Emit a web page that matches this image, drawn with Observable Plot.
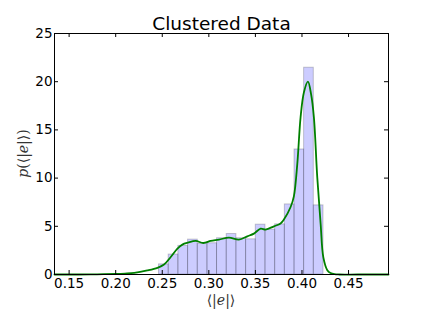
<!DOCTYPE html>
<html>
<head>
<meta charset="utf-8">
<script src="https://cdn.jsdelivr.net/npm/d3@7"></script>
<script src="https://cdn.jsdelivr.net/npm/@observablehq/plot@0.6"></script>
<style>
  html, body { margin: 0; padding: 0; background: #fff; }
</style>
</head>
<body>
<div id="chart"></div>
<script>
const title = "Clustered Data";
const xTicks = [0.15, 0.20, 0.25, 0.30, 0.35, 0.40, 0.45];
const yTicks = [0, 5, 10, 15, 20, 25];
const binEdges = [0.2465, 0.2569, 0.2673, 0.2777, 0.2881, 0.2985, 0.3088, 0.3192, 0.3296, 0.3400,
                  0.3504, 0.3608, 0.3712, 0.3816, 0.3920, 0.4023, 0.4127, 0.4231];
const binHeights = [1.05, 2.07, 2.97, 3.62, 3.17, 3.24, 3.76, 4.2, 3.76, 3.65,
                    5.17, 4.65, 5.2, 7.27, 12.97, 21.45, 7.17];
const kdeX = [0.1343, 0.16, 0.18, 0.20, 0.21, 0.22, 0.234, 0.2448, 0.2519, 0.2591, 0.2663, 0.2716,
              0.2776, 0.2859, 0.2941, 0.302, 0.3109, 0.3216, 0.3323, 0.3413, 0.3484, 0.3556, 0.361,
              0.3699, 0.377, 0.3806, 0.3878, 0.3913, 0.395, 0.3985, 0.4021, 0.4064, 0.4098, 0.4128,
              0.4164, 0.420, 0.4229, 0.4272, 0.4307, 0.435, 0.44, 0.46, 0.4929];
const kdeY = [0, 0, 0.02, 0.06, 0.1, 0.17, 0.42, 0.69, 1.03, 1.82, 2.69, 3.1,
              3.3, 3.48, 3.27, 3.48, 3.62, 3.83, 3.62, 3.96, 4.24, 4.76, 4.66,
              5.0, 5.3, 5.7, 7.0, 8.1, 11.5, 16.3, 18.9, 20.0, 18.7, 16.3,
              10.1, 5.3, 1.8, 0.45, 0.15, 0.03, 0, 0, 0];

const bars = binHeights.map((h, i) => ({x1: binEdges[i], x2: binEdges[i + 1], y: h}));
const kde = kdeX.map((x, i) => ({x, y: kdeY[i]}));

const W = 431, H = 323, mL = 54, mR = 43, mT = 33, mB = 49;
const innerW = W - mL - mR, innerH = H - mT - mB;
const tick = 4;

const plot = Plot.plot({
  width: W, height: H,
  marginLeft: mL, marginRight: mR, marginTop: mT, marginBottom: mB,
  style: {fontFamily: "DejaVu Sans", fontSize: "13.5px", color: "black", background: "white", overflow: "visible"},
  x: {domain: [0.1343, 0.4929], label: null},
  y: {domain: [0, 25], label: null},
  marks: [
    Plot.rectY(bars, {x1: "x1", x2: "x2", y: "y", fill: "#0000ff", fillOpacity: 0.2,
                      stroke: "#000", strokeOpacity: 0.2, strokeWidth: 1, inset: 0}),
    Plot.line(kde, {x: "x", y: "y", stroke: "#008000", strokeWidth: 1.8, curve: "catmull-rom"}),
    Plot.ruleX(xTicks, {insetTop: innerH - tick, stroke: "black"}),
    Plot.ruleX(xTicks, {insetBottom: innerH - tick, stroke: "black"}),
    Plot.ruleY(yTicks, {insetLeft: innerW - tick, stroke: "black"}),
    Plot.ruleY(yTicks, {insetRight: innerW - tick, stroke: "black"}),
    Plot.axisX(xTicks, {tickSize: 0, tickPadding: 4, tickFormat: d3.format(".2f"), fontSize: 13.5}),
    Plot.axisY(yTicks, {tickSize: 0, tickPadding: 2, tickFormat: d3.format("d"), fontSize: 13.5}),
    Plot.frame({stroke: "black", strokeWidth: 1}),
    Plot.text([title], {frameAnchor: "top", lineAnchor: "bottom", dy: -4, fontSize: 18.5, fill: "black"})
  ]
});

const svg = d3.select(plot);
// x-axis label ⟨|e|⟩
const xl = svg.append("text")
  .attr("x", mL + innerW / 2).attr("y", 305)
  .attr("text-anchor", "middle")
  .attr("font-family", "DejaVu Serif").attr("font-size", 14).attr("fill", "#333");
xl.append("tspan").text("⟨|");
xl.append("tspan").attr("font-style", "italic").text("e");
xl.append("tspan").text("|⟩");
// y-axis label p(⟨|e|⟩)
const yl = svg.append("text")
  .attr("transform", `translate(28,${mT + innerH / 2}) rotate(-90)`)
  .attr("text-anchor", "middle")
  .attr("font-family", "DejaVu Serif").attr("font-size", 14).attr("fill", "#333");
yl.append("tspan").attr("font-style", "italic").text("p");
yl.append("tspan").text("(⟨|");
yl.append("tspan").attr("font-style", "italic").text("e");
yl.append("tspan").text("|⟩)");

document.getElementById("chart").appendChild(plot);
</script>
</body>
</html>
